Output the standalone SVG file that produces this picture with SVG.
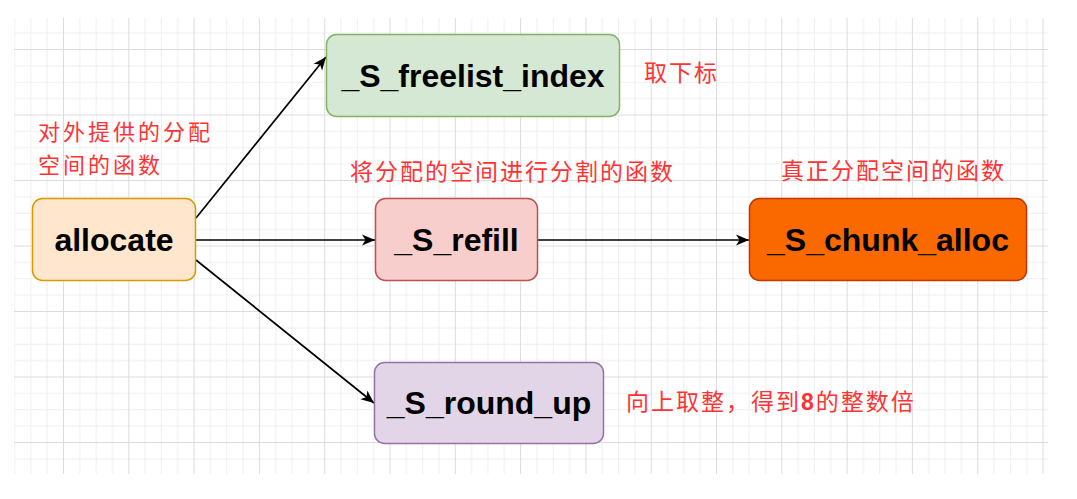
<svg xmlns="http://www.w3.org/2000/svg" width="1077" height="499" viewBox="0 0 1077 499">
  <style>
    .node rect { stroke-width: 1.5; }
    .lbl { font-family: "Liberation Sans", Arial, sans-serif; font-weight: bold; font-size: 32px; fill: #000; text-anchor: middle; }
    .note { font-family: "Noto Sans CJK SC", "Liberation Sans", sans-serif; font-size: 23px; letter-spacing: 2px; fill: #ff3333; }
    .note2 { font-size: 22px; letter-spacing: 3px; }
    .edge { stroke: #000; stroke-width: 1.7; fill: none; }
  </style>
  <defs>
    <pattern id="grid" patternUnits="userSpaceOnUse" x="-2.3" y="-16.5" width="65.3" height="65.5">
      <rect x="16.3" y="0" width="1" height="65.5" fill="#eeeeee"/>
      <rect x="32.6" y="0" width="1" height="65.5" fill="#eeeeee"/>
      <rect x="49" y="0" width="1" height="65.5" fill="#eeeeee"/>
      <rect x="0" y="16.4" width="65.3" height="1" fill="#eeeeee"/>
      <rect x="0" y="32.7" width="65.3" height="1" fill="#eeeeee"/>
      <rect x="0" y="49.1" width="65.3" height="1" fill="#eeeeee"/>
      <rect x="0" y="0" width="1" height="65.5" fill="#dcdcdc"/>
      <rect x="0" y="0" width="65.3" height="1" fill="#dcdcdc"/>
    </pattern>
    <marker id="arrow" markerUnits="userSpaceOnUse" markerWidth="15" markerHeight="13" refX="14" refY="6.5" orient="auto">
      <path d="M1,1 L14,6.5 L1,12 L4.5,6.5 Z" fill="#000"/>
    </marker>
  </defs>
  <rect width="1077" height="499" fill="#fff"/>
  <rect x="14" y="18" width="1034" height="456" fill="url(#grid)"/>

  <g id="connectors">
    <line class="edge" x1="196" y1="218" x2="326" y2="57" marker-end="url(#arrow)"/>
    <line class="edge" x1="196" y1="240" x2="375" y2="240" marker-end="url(#arrow)"/>
    <line class="edge" x1="196" y1="260" x2="374" y2="403" marker-end="url(#arrow)"/>
    <line class="edge" x1="538" y1="240" x2="749" y2="240" marker-end="url(#arrow)"/>
  </g>

  <g id="node-allocate" class="node">
    <rect x="32.5" y="198.5" width="163" height="82" rx="10" fill="#ffe6cc" stroke="#d79b00"/>
    <text class="lbl" x="114" y="250.5">allocate</text>
  </g>
  <g id="node-freelist" class="node">
    <rect x="326.5" y="34.5" width="293" height="82" rx="10" fill="#d5e8d4" stroke="#82b366"/>
    <text class="lbl" x="473" y="87">_S_freelist_index</text>
  </g>
  <g id="node-refill" class="node">
    <rect x="375.5" y="198.5" width="162" height="82" rx="10" fill="#f8cecc" stroke="#b85450"/>
    <text class="lbl" x="456.5" y="250.5">_S_refill</text>
  </g>
  <g id="node-chunk" class="node">
    <rect x="749.5" y="198.5" width="277" height="82" rx="10" fill="#fa6800" stroke="#c73500"/>
    <text class="lbl" x="888" y="250.5">_S_chunk_alloc</text>
  </g>
  <g id="node-roundup" class="node">
    <rect x="374.5" y="362.5" width="229" height="81" rx="10" fill="#e1d5e7" stroke="#9673a6"/>
    <text class="lbl" x="489" y="414">_S_round_up</text>
  </g>

  <g id="notes">
    <text class="note note2" x="38" y="140">对外提供的分配<tspan x="38" y="173">空间的函数</tspan></text>
    <text class="note" x="644" y="81">取下标</text>
    <text class="note" x="350" y="180">将分配的空间进行分割的函数</text>
    <text class="note" x="781" y="179">真正分配空间的函数</text>
    <text class="note" x="626" y="410">向上取整，得到<tspan font-family="'Liberation Sans', sans-serif" font-weight="bold">8</tspan>的整数倍</text>
  </g>
</svg>
